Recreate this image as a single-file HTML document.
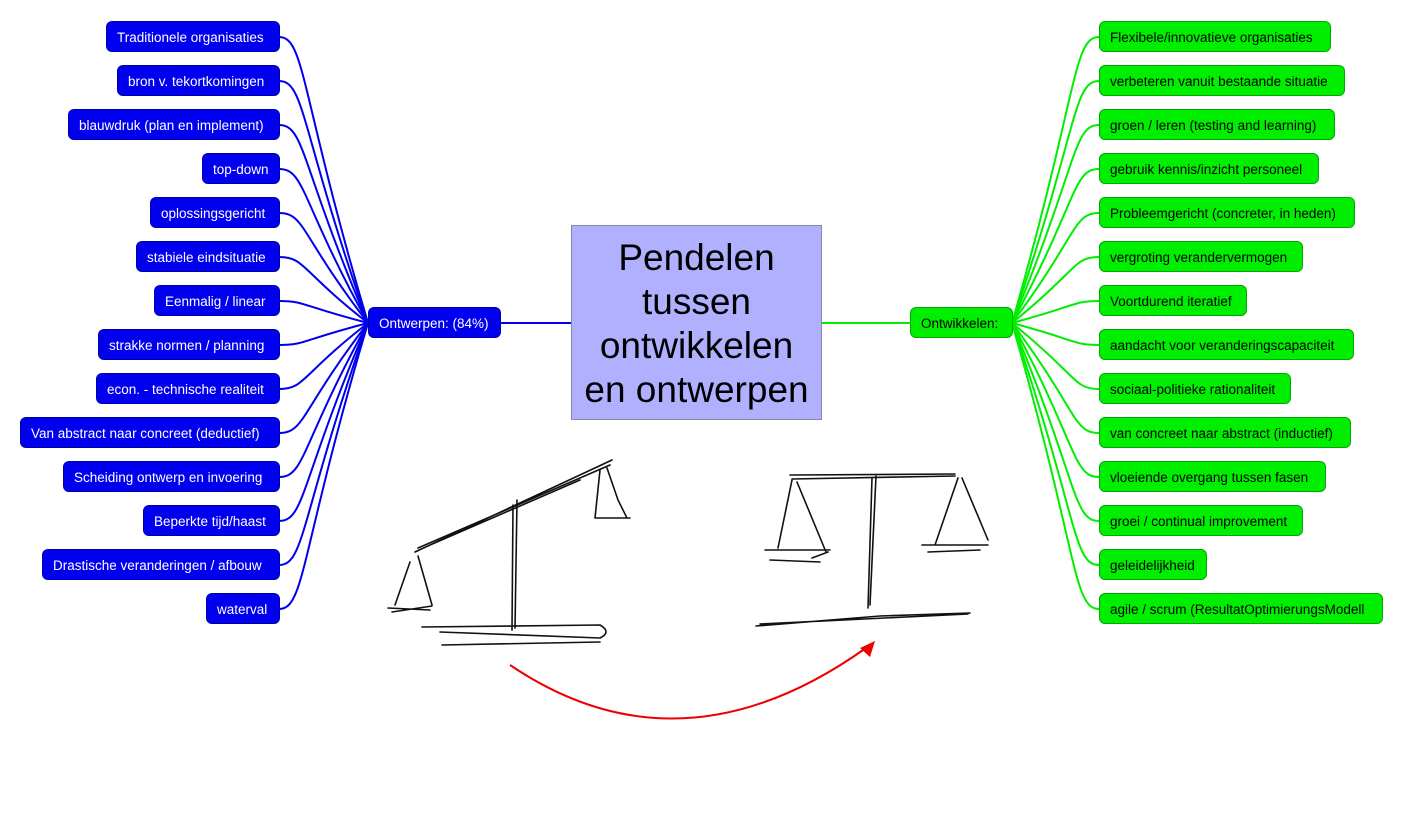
<!DOCTYPE html>
<html><head><meta charset="utf-8"><style>
body{margin:0;width:1403px;height:825px;background:#fff;position:relative;overflow:hidden;font-family:"Liberation Sans",sans-serif}
.n{position:absolute;height:31px;line-height:31px;font-size:13.5px;border-radius:6px;padding:0 10px;box-sizing:border-box;white-space:nowrap}
.b{background:#0000ee;color:#fff;border:1px solid #0000aa}
.g{background:#00ee00;color:#000;border:1px solid #00aa00}
#c{position:absolute;left:571px;top:225px;width:251px;height:195px;background:#b0b0ff;border:1px solid #8888aa;box-sizing:border-box;text-align:center;font-size:37px;line-height:44px;padding-top:10px}
svg{position:absolute;left:0;top:0}
</style></head><body>
<svg width="1403" height="825">
<g fill="none" stroke="#0000ee" stroke-width="2" id="lb"></g>
<g fill="none" stroke="#00ee00" stroke-width="2" id="rb"></g>
<line x1="500" y1="323" x2="571" y2="323" stroke="#0000ee" stroke-width="2"/>
<line x1="822" y1="323" x2="910" y2="323" stroke="#00ee00" stroke-width="2"/>
<g fill="none" stroke="#111" stroke-width="1.6" stroke-linecap="round">
<path d="M415 552 L612 460 M418 548 L610 465 M430 545 L580 480"/>
<path d="M513 505 L512 630 M517 500 L515 628"/>
<path d="M422 627 L600 625 Q612 632 600 638 L440 632 M442 645 L600 642"/>
<path d="M410 562 L395 605 M418 556 L432 605 M388 608 L430 610 M392 612 L432 606"/>
<path d="M600 470 L595 518 M607 468 L618 500 L627 518 M595 518 L630 518"/>
<path d="M790 475 L955 474 M792 479 L955 476"/>
<path d="M872 478 L868 608 M876 476 L870 605"/>
<path d="M756 626 L880 616 L970 613 M760 624 L968 614"/>
<path d="M792 480 L778 548 M797 482 L826 552 M765 550 L830 550 M770 560 L820 562 M812 558 L828 552"/>
<path d="M958 478 L935 545 M962 478 L988 540 M922 545 L988 545 M928 552 L980 550"/>
</g>
<path d="M510 665 Q680 780 866 648" fill="none" stroke="#ee0000" stroke-width="2"/>
<polygon points="875,641 860,648 870,657" fill="#ee0000"/>
</svg>
<div id="c">Pendelen<br>tussen<br>ontwikkelen<br>en ontwerpen</div>
<div class="n b" style="left:368px;top:307px;width:133px;">Ontwerpen: (84%)</div>
<div class="n g" style="left:910px;top:307px;width:103px;">Ontwikkelen:</div>
<div id="nodes"></div>
<script>
var L=[["Traditionele organisaties",106],["bron v. tekortkomingen",117],["blauwdruk (plan en implement)",68],["top-down",202],["oplossingsgericht",150],["stabiele eindsituatie",136],["Eenmalig / linear",154],["strakke normen / planning",98],["econ. - technische realiteit",96],["Van abstract naar concreet (deductief)",20],["Scheiding ontwerp en invoering",63],["Beperkte tijd/haast",143],["Drastische veranderingen / afbouw",42],["waterval",206]];
var R=[["Flexibele/innovatieve organisaties",1331],["verbeteren vanuit bestaande situatie",1345],["groen / leren (testing and learning)",1335],["gebruik kennis/inzicht personeel",1319],["Probleemgericht (concreter, in heden)",1355],["vergroting verandervermogen",1303],["Voortdurend iteratief",1247],["aandacht voor veranderingscapaciteit",1354],["sociaal-politieke rationaliteit",1291],["van concreet naar abstract (inductief)",1351],["vloeiende overgang tussen fasen",1326],["groei / continual improvement",1303],["geleidelijkheid",1207],["agile / scrum (ResultatOptimierungsModell",1383]];
var h="",lp="",rp="";
L.forEach(function(a,i){var y=21+44*i,c=y+16;h+='<div class="n b" style="left:'+a[1]+'px;top:'+y+'px;width:'+(280-a[1])+'px">'+a[0]+'</div>';lp+='<path d="M279 '+c+' C305 '+c+' 300 '+(c+(323-c)*0.2)+' 368 323"/>';});
R.forEach(function(a,i){var y=21+44*i,c=y+16;h+='<div class="n g" style="left:1099px;top:'+y+'px;width:'+(a[1]-1099)+'px">'+a[0]+'</div>';rp+='<path d="M1099 '+c+' C1073 '+c+' 1078 '+(c+(323-c)*0.2)+' 1012 323"/>';});
document.getElementById("nodes").innerHTML=h;
document.getElementById("lb").innerHTML=lp;document.getElementById("rb").innerHTML=rp;
</script>
</body></html>
